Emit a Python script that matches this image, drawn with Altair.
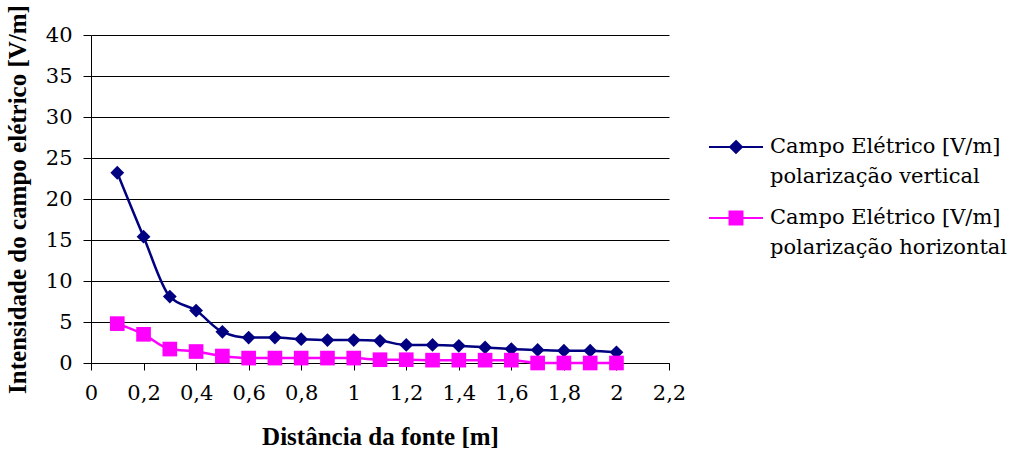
import altair as alt
import pandas as pd

# Distance from the source [m]
distancia = [0.1, 0.2, 0.3, 0.4, 0.5, 0.6, 0.7, 0.8, 0.9, 1.0,
             1.1, 1.2, 1.3, 1.4, 1.5, 1.6, 1.7, 1.8, 1.9, 2.0]

# Electric field intensity [V/m]
campo_vertical = [23.2, 15.4, 8.1, 6.4, 3.8, 3.1, 3.1, 2.9, 2.8, 2.8,
                  2.7, 2.2, 2.2, 2.1, 1.9, 1.7, 1.6, 1.5, 1.5, 1.3]
campo_horizontal = [4.8, 3.5, 1.7, 1.4, 0.85, 0.6, 0.6, 0.6, 0.6, 0.6,
                    0.4, 0.4, 0.35, 0.35, 0.35, 0.35, 0.0, 0.0, 0.0, 0.0]

series = ["Campo Elétrico [V/m]\npolarização vertical",
          "Campo Elétrico [V/m]\npolarização horizontal"]
cores = ["#000080", "#FF00FF"]
marcadores = ["diamond", "square"]
tamanhos = [190, 215]

x_ticks = [0, 0.2, 0.4, 0.6, 0.8, 1.0, 1.2, 1.4, 1.6, 1.8, 2.0, 2.2]
y_ticks = [0, 5, 10, 15, 20, 25, 30, 35, 40]

# legend symbols: a short line with the series marker in the middle
simbolos = ["M-1,0H1M0,-0.22L0.22,0L0,0.22L-0.22,0Z",
            "M-1,0H1M-0.24,-0.24H0.24V0.24H-0.24Z"]

df = pd.DataFrame({
    "dist": distancia * 2,
    "campo": campo_vertical + campo_horizontal,
    "serie": [series[0]] * len(distancia) + [series[1]] * len(distancia),
})

FONTE_TITULO = "Liberation Serif"
FONTE_TEXTO = "DejaVu Serif"

x_enc = alt.X(
    "dist:Q",
    scale=alt.Scale(domain=[0, 2.2], nice=False, zero=False),
    axis=alt.Axis(
        values=x_ticks,
        title="Distância da fonte [m]",
        grid=False,
        labelExpr="replace(format(datum.value, '.1~f'), '.', ',')",
        labelFlush=False,
        labelFontSize=21,
        labelPadding=12,
        tickSize=7,
        titleFontSize=25,
        titleFontWeight="bold",
        titlePadding=21,
    ),
)
y_enc = alt.Y(
    "campo:Q",
    scale=alt.Scale(domain=[0, 40], nice=False),
    axis=alt.Axis(
        values=y_ticks,
        title="Intensidade do campo elétrico [V/m]",
        grid=True,
        labelFlush=False,
        labelFontSize=21,
        labelPadding=11,
        tickSize=8,
        titleFontSize=25,
        titleFontWeight="bold",
        titlePadding=15,
    ),
)

camadas = []
for nome, cor, marcador, tamanho in zip(series, cores, marcadores, tamanhos):
    base = alt.Chart(df).transform_filter(alt.datum.serie == nome)
    camadas.append(
        base.mark_line(color=cor, strokeWidth=2.5, interpolate="monotone")
        .encode(x=x_enc, y=y_enc)
    )
    camadas.append(
        base.mark_point(shape=marcador, filled=True, color=cor, size=tamanho, opacity=1)
        .encode(x=x_enc, y=y_enc)
    )

legenda_cfg = alt.Legend(
    title=None,
    orient="none",
    legendX=617,
    legendY=84,
    labelExpr="split(datum.label, '\\n')",
    labelFont=FONTE_TEXTO,
    labelFontSize=21,
    labelColor="black",
    labelLimit=400,
    labelOffset=6,
    symbolSize=2916,
    symbolStrokeWidth=2,
    symbolOpacity=1,
    rowPadding=3,
)

legenda = (
    alt.Chart(df)
    .transform_filter("datum.campo < -100")
    .mark_point(filled=True)
    .encode(
        x=x_enc,
        y=y_enc,
        fill=alt.Fill("serie:N", scale=alt.Scale(domain=series, range=cores), legend=legenda_cfg),
        stroke=alt.Stroke("serie:N", scale=alt.Scale(domain=series, range=cores), legend=legenda_cfg),
        shape=alt.Shape("serie:N", scale=alt.Scale(domain=series, range=simbolos), legend=legenda_cfg),
    )
)

chart = (
    alt.layer(*camadas, legenda)
    .properties(
        width=578,
        height=328,
        autosize=alt.AutoSizeParams(type="none"),
        padding={"left": 91, "top": 35, "right": 348, "bottom": 92},
        background="white",
    )
    .configure(font=FONTE_TITULO, style={"guide-label": {"lineHeight": 30}})
    .configure_view(stroke=None)
    .configure_axis(
        domainColor="black",
        tickColor="black",
        gridColor="black",
        gridWidth=1,
        domainWidth=1,
        labelColor="black",
        titleColor="black",
        labelFont=FONTE_TEXTO,
        titleFont=FONTE_TITULO,
    )
)

chart.save("out.html", embed_options={"renderer": "svg", "actions": False})
